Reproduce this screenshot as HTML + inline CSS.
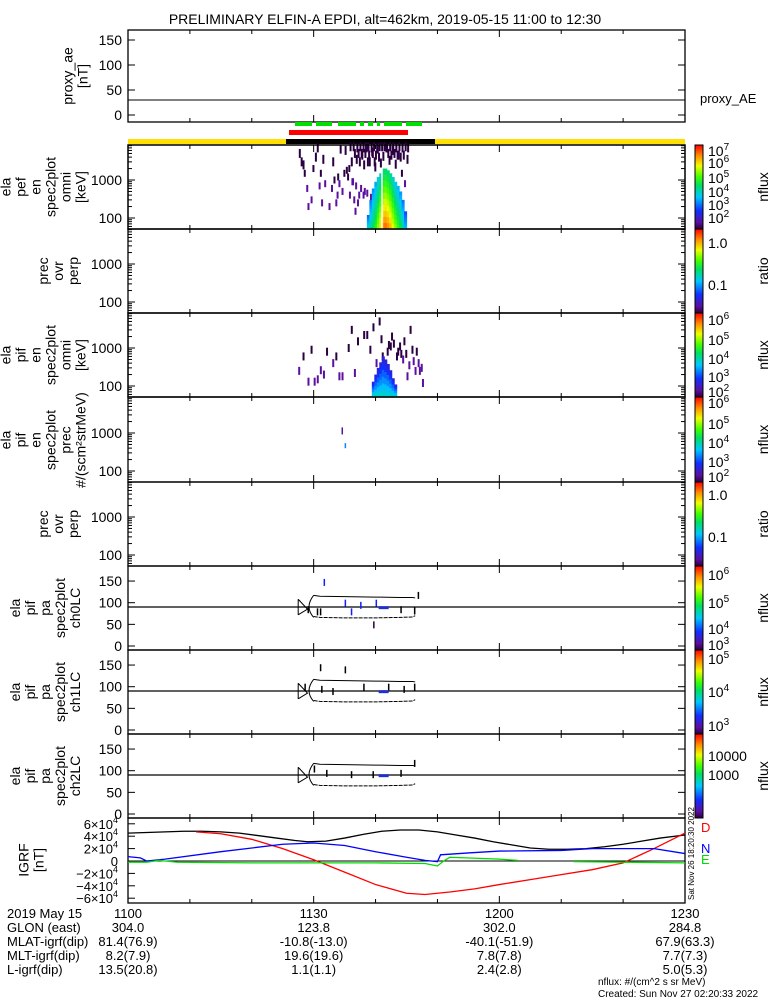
<!DOCTYPE html>
<html><head><meta charset="utf-8">
<style>
html,body{margin:0;padding:0;background:#fff;width:775px;height:1000px;overflow:hidden}
svg{display:block;font-family:"Liberation Sans",sans-serif}
text{fill:#000}
</style></head>
<body>
<svg id="fig" width="775" height="1000" viewBox="0 0 775 1000" xmlns="http://www.w3.org/2000/svg">
<defs>
<linearGradient id="rb" x1="0" y1="1" x2="0" y2="0">
<stop offset="0" stop-color="#2a0040"/><stop offset="0.08" stop-color="#5a10a0"/><stop offset="0.22" stop-color="#1030ff"/>
<stop offset="0.38" stop-color="#00c8ff"/><stop offset="0.52" stop-color="#00e060"/><stop offset="0.62" stop-color="#40ff00"/>
<stop offset="0.75" stop-color="#f0ff00"/><stop offset="0.87" stop-color="#ff9000"/><stop offset="1" stop-color="#ff0000"/>
</linearGradient>
</defs>
<text x="385" y="24" text-anchor="middle" font-size="14">PRELIMINARY ELFIN-A EPDI, alt=462km, 2019-05-15 11:00 to 12:30</text>
</svg>
<script>
// ---------- data ----------
const aeTimes=[0,90];
const aeValues=[30,30];
const coneTimes=[38.6,39.0,39.4,39.8,40.2,40.6,41.0,41.4,41.8,42.2,42.6,43.0,43.4,43.8,44.2,44.6];
const coneTopE=[120,300,600,900,1200,1500,2000,2000,1800,1500,1200,900,700,500,300,150];
const coneLevel=[0.3,0.35,0.4,0.45,0.55,0.65,0.75,0.78,0.75,0.7,0.62,0.55,0.48,0.42,0.35,0.25];
const pefSpeckT=[27.6,28.2,28.8,29.5,30.2,31,31.7,32.4,33,33.8,34.5,35,35.6,36.2,36.8,37.2,37.6,38,38.4,38.9,39.3,39.8,40.2,40.7,41.1,41.6,42.1,42.6,43.1,43.6,44.1,44.6,29,31.4,33.5,35.2,36.6,37.9,30.5,34.2,
 35.8,36.3,36.9,37.4,37.9,38.3,38.7,39.2,39.6,40.1,40.5,40.9,41.3,41.7,42.2,42.7,43.2,43.7,44.2,44.7,45.1,36.5,37.1,37.7,38.2,38.8,39.4,39.9,40.4,41.9,42.4,42.9,43.4,43.9,44.4,45,36,37.3,38.6,39.7,
 34.8,35.4,36.1,36.7,37.5,38.1,38.5,39.1,32.8,33.7,31.2,30.8,28.4,27.9,29.8,33.2,34,35.7,36.4,37];
const pefSpeckE=[5000,2500,600,300,4000,1500,800,200,3000,1200,500,6000,2000,900,3500,400,5000,2500,7000,3000,5500,2200,6500,2800,4200,7000,3300,6000,2600,4500,1500,800,200,3500,250,1800,150,400,7000,6500,
 7500,7500,7000,7500,7000,7500,7500,7000,7500,7000,7500,7500,7500,7000,7500,7500,7000,7500,7000,7500,7000,5000,5000,4500,5000,4500,5000,4500,4000,5000,4500,5000,4500,4000,4500,3500,3000,3000,3000,3000,
 1500,1200,900,700,600,500,450,350,600,400,250,700,1500,3000,2000,1000,800,400,300,250];
const pifSpeckT=[27.5,28.2,29,30.5,32,33.5,34.5,36,37,38,39,40,41.5,42.5,43.5,44.5,45.5,46.5,47,35.5,31.5,40.5,42,44,46,47.5,29.5,33,38.5,45,
 41,41.8,42.8,43.8,44.8,45.8,46.8,39.5,40.8,42.3,43.3,44.3,45.3,46.3,47.3,36.5,34,31,30];
const pifSpeckE=[250,600,130,150,800,600,180,3000,1500,2200,900,400,300,2000,800,1500,3000,800,250,1000,200,5000,1200,700,450,120,900,400,2200,180,
 600,800,1300,1100,700,900,400,3500,1700,1100,600,500,350,250,300,220,180,260,130];
const pifConeT=[39.4,39.8,40.2,40.6,41,41.4,41.8,42.2,42.6,43];
const pifConeTop=[130,200,300,420,600,500,380,260,160,110];
const paTop=[117,115,114,113,112,112,111];
const paTopT=[30,31,35,40,44,46,46.4];
const paBot=[68,66,65,65,66,67,70];
const totT=[0,3,6,9,12,15,18,21,24,27,29,32,35,38,41,44,47,50,53,56,59,62,65,68,71,74,77,80,83,86,90];
const totV=[45,46,47,48,48,47,45,41,37,33,31,32,37,43,48,50,50,47,42,37,31,26,21,19,19,20,23,27,32,37,42];
const dT=[11,15,20,25,30,35,40,45,48,52,56,60,65,70,75,80,85,90];
const dV=[47,44,35,20,2,-18,-38,-52,-54,-50,-45,-38,-30,-22,-14,-3,20,45];
const nT=[0,2,3,6,15,25,30,35,40,45,48,50,50.5,55,60,70,75,85,90];
const nV=[7,5,0,3,15,27,29,25,15,6,1,-1,10,13,16,17,20,20,12];
const eT=[0,3,5,8,20,30,40,48,50,51,52,60,63];
const eV=[-2,-2,1,-2,-3,-3,-3,-4,-8,0,6,3,1];
const e2T=[72,90];
const e2V=[-1,-3];
const xTicks=["1100","1130","1200","1230"];
const glon=["304.0","123.8","302.0","284.8"];
const mlat=["81.4(76.9)","-10.8(-13.0)","-40.1(-51.9)","67.9(63.3)"];
const mlt=["8.2(7.9)","19.6(19.6)","7.8(7.8)","7.7(7.3)"];
const lval=["13.5(20.8)","1.1(1.1)","2.4(2.8)","5.0(5.3)"];

// ---------- helpers ----------
const svg=document.getElementById('fig');
const NS='http://www.w3.org/2000/svg';
const X0=128,X1=685;
const xs=t=>X0+(X1-X0)*t/90;
function mk(tag,attrs,parent){const e=document.createElementNS(NS,tag);for(const k in attrs)e.setAttribute(k,attrs[k]);(parent||svg).appendChild(e);return e;}
function txt(s,x,y,sz,anchor,parent){const e=mk('text',{x:x,y:y,'font-size':sz,'text-anchor':anchor||'start'},parent);e.textContent=s;return e;}
function rainbow(v){const st=[[0,[42,0,64]],[0.08,[90,16,160]],[0.22,[16,48,255]],[0.38,[0,200,255]],[0.52,[0,224,96]],[0.62,[64,255,0]],[0.75,[240,255,0]],[0.87,[255,144,0]],[1,[255,0,0]]];
 v=Math.max(0,Math.min(1,v));for(let i=1;i<st.length;i++){if(v<=st[i][0]){const a=st[i-1],b=st[i],f=(v-a[0])/(b[0]-a[0]);return 'rgb('+a[1].map((c,j)=>Math.round(c+(b[1][j]-c)*f)).join(',')+')';}}return 'red';}
function xAxisTicks(top,bot,g){for(let m=0;m<=90;m+=10){const major=(m%30===0);const L=major?7:4;mk('line',{x1:xs(m),y1:top,x2:xs(m),y2:top+L,stroke:'#000'},g);mk('line',{x1:xs(m),y1:bot,x2:xs(m),y2:bot-L,stroke:'#000'},g);}}
function frame(top,bot,name){const g=mk('g',{});
 mk('rect',{x:X0,y:top,width:X1-X0,height:bot-top,fill:'none',stroke:'#000','stroke-width':1.3},g);xAxisTicks(top,bot,g);return g;}
function ylabel(lines,cx,cy,g){const t=mk('text',{transform:'translate('+cx+','+cy+') rotate(-90)','font-size':14,'text-anchor':'middle'},g);
 lines.forEach((l,i)=>{const s=mk('tspan',{x:0,dy:i===0?(-(lines.length-1)*7.5):15},t);s.textContent=l;});return t;}
function logAxis(top,bot,y100,y1000,g){const d=y100-y1000;
 for(let dec=1;dec<=4;dec++)for(let k=1;k<10;k++){const v=Math.pow(10,dec)*k;const y=y100-(Math.log10(v)-2)*d;if(y<top||y>bot)continue;const L=(k===1)?7:4;
  mk('line',{x1:X0,y1:y,x2:X0+L,y2:y,stroke:'#000'},g);mk('line',{x1:X1,y1:y,x2:X1-L,y2:y,stroke:'#000'},g);}
 txt('1000',X0-6,y1000+5,14,'end',g);txt('100',X0-6,y100+5,14,'end',g);
 return v=>y100-(Math.log10(v)-2)*d;}
function colorbar(top,bot,labels,title,name){const g=mk('g',{});
 mk('rect',{x:695,y:top,width:8,height:bot-top,fill:'url(#rb)',stroke:'#000','stroke-width':1},g);
 labels.forEach(l=>{const t=txt(l[0],708,l[1],14,'start',g);if(l[2]){const s=mk('tspan',{dy:-6,'font-size':10},t);s.textContent=l[2];}});
 const t=mk('text',{transform:'translate(768,'+((top+bot)/2)+') rotate(-90)','font-size':14,'text-anchor':'middle'},g);t.textContent=title;}
function speck(g,t,y,h,fill,name){const r=mk('rect',{x:xs(t),y:y-h/2,width:2,height:h,fill:fill},g);}

// ---------- panel 1: proxy AE ----------
(function(){const top=30,bot=122;const g=frame(top,bot,'proxy-ae-panel');const ys=v=>115-v*0.5;
 [0,50,100,150].forEach(v=>{txt(String(v),X0-6,ys(v)+5,14,'end',g);mk('line',{x1:X0,y1:ys(v),x2:X0+7,y2:ys(v),stroke:'#000'},g);mk('line',{x1:X1,y1:ys(v),x2:X1-7,y2:ys(v),stroke:'#000'},g);});
 const l=mk('polyline',{points:aeTimes.map((t,i)=>xs(t)+','+ys(aeValues[i])).join(' '),fill:'none',stroke:'#000'},g);
 
 ylabel(['proxy_ae','[nT]'],80,76,g);txt('proxy_AE',700,103,13,'start',g);})();

// status bars
(function(){const g=mk('g',{});
 [[295,312],[316,332],[338,356],[360,364],[368,373],[377,380],[384,402],[406,422]].forEach(s=>mk('rect',{x:s[0],y:122,width:s[1]-s[0],height:4,fill:'#00e000'},g));
 mk('rect',{x:289,y:130,width:119,height:5,fill:'#ff0000'},g);
 mk('rect',{x:X0,y:139,width:X1-X0,height:5,fill:'#ffe000'},g);
 mk('rect',{x:286,y:139,width:149,height:5,fill:'#000'},g);})();

// ---------- panel 2: ela pef ----------
(function(){const top=145,bot=229;const g=frame(top,bot,'pef-spectrogram-panel');const ys=logAxis(top,bot,218,180,g);
 ylabel(['ela','pef','en','spec2plot','omni','[keV]'],48,187,g);
 pefSpeckT.forEach((t,i)=>{const E=pefSpeckE[i];speck(g,t,ys(E),E>2000?9:7,E>900?'#2a0040':'#5a10a0','pef-speckle');});
 coneTimes.forEach((t,i)=>{const yTop=ys(coneTopE[i]);const n=10;for(let k=0;k<n;k++){const y0=yTop+(bot-yTop)*k/n,y1=yTop+(bot-yTop)*(k+1)/n;
  const r=mk('rect',{x:xs(t),y:y0,width:xs(0.4)-X0+0.6,height:y1-y0+0.5,fill:rainbow(0.12+coneLevel[i]*(0.45+0.55*(k+1)/n))},g);}});
 mk('line',{x1:382,y1:ys(2000),x2:382,y2:bot,stroke:'#fff','stroke-width':1.5},g);
 mk('rect',{x:X0,y:top,width:X1-X0,height:bot-top,fill:'none',stroke:'#000','stroke-width':1.3},g);})();

// ---------- panel 3: prec ovr perp ----------
(function(){const top=229,bot=313;const g=frame(top,bot,'pef-ratio-panel');logAxis(top,bot,302,264,g);ylabel(['prec','ovr','perp'],63,271,g);})();

// ---------- panel 4: ela pif ----------
(function(){const top=313,bot=397;const g=frame(top,bot,'pif-spectrogram-panel');const ys=logAxis(top,bot,386,348,g);
 ylabel(['ela','pif','en','spec2plot','omni','[keV]'],48,355,g);
 pifSpeckT.forEach((t,i)=>{const E=pifSpeckE[i];speck(g,t,ys(E),8,E>500?'#2a0040':'#5a10a0','pif-speckle');});
 pifConeT.forEach((t,i)=>{const yTop=ys(pifConeTop[i]);const n=6;for(let k=0;k<n;k++){const y0=yTop+(bot-yTop)*k/n,y1=yTop+(bot-yTop)*(k+1)/n;
  const r=mk('rect',{x:xs(t),y:y0,width:xs(0.4)-X0+0.6,height:y1-y0+0.5,fill:rainbow(0.12+0.3*(k+1)/n)},g);}});
 mk('rect',{x:X0,y:top,width:X1-X0,height:bot-top,fill:'none',stroke:'#000','stroke-width':1.3},g);})();

// ---------- panel 5: pif prec ----------
(function(){const top=397,bot=482;const g=frame(top,bot,'pif-prec-panel');const ys=logAxis(top,bot,471,433,g);
 ylabel(['ela','pif','en','spec2plot','prec','#/(scm\u00B2strMeV)'],48,440,g);
 mk('rect',{x:xs(34.5),y:ys(1100)-4,width:1.5,height:7,fill:'#5a10a0'},g);mk('rect',{x:xs(35),y:ys(450)-3,width:1.5,height:5,fill:'#1080ff'},g);})();

// ---------- panel 6: prec ovr perp ----------
(function(){const top=482,bot=566;const g=frame(top,bot,'pif-ratio-panel');logAxis(top,bot,555,517,g);ylabel(['prec','ovr','perp'],63,524,g);})();

// ---------- pitch angle panels ----------
function paPanel(top,name,chan,dashes){const bot=top+84;const g=frame(top,bot,name);const ys=v=>top+80-v*0.433;
 [0,50,100,150].forEach(v=>{txt(String(v),X0-6,ys(v)+5,14,'end',g);mk('line',{x1:X0,y1:ys(v),x2:X0+7,y2:ys(v),stroke:'#000'},g);mk('line',{x1:X1,y1:ys(v),x2:X1-7,y2:ys(v),stroke:'#000'},g);});
 mk('line',{x1:X0,y1:ys(90),x2:X1,y2:ys(90),stroke:'#000','stroke-width':1.2},g);
 ylabel(['ela','pif','pa','spec2plot',chan],50,top+42,g);
 const c1=mk('polyline',{points:paTopT.map((t,i)=>xs(t)+','+ys(paTop[i])).join(' '),fill:'none',stroke:'#000'},g);
 const c2=mk('polyline',{points:paTopT.map((t,i)=>xs(t)+','+ys(paBot[i])).join(' '),fill:'none',stroke:'#000','stroke-dasharray':'4 1'},g);
 mk('path',{d:'M'+xs(30)+','+ys(117)+' Q'+xs(28.5)+','+ys(90)+' '+xs(30)+','+ys(66)+' M'+xs(27.5)+','+ys(108)+' L'+xs(27.5)+','+ys(72)+' M'+xs(27.5)+','+ys(108)+' L'+xs(29)+','+ys(85)+' L'+xs(27.5)+','+ys(72),fill:'none',stroke:'#000'},g);
 dashes.forEach(d=>mk('rect',{x:xs(d[0]),y:ys(d[1])-3,width:1.5,height:7,fill:d[2]},g));
 mk('rect',{x:xs(40.5),y:ys(92),width:10,height:3,fill:'#2030d0'},g);}
paPanel(566,'pa-ch0-panel','ch0LC',[[29,85,'#000'],[30.5,80,'#000'],[31,80,'#000'],[31.6,148,'#1020ff'],[35,100,'#1020ff'],[36,80,'#1020ff'],[37.5,95,'#1020ff'],[40,100,'#1020ff'],[44,85,'#000'],[46.2,82,'#000'],[46.8,118,'#000'],[39.6,50,'#2a0040']]);
paPanel(650,'pa-ch1-panel','ch1LC',[[28.5,100,'#000'],[31,145,'#000'],[35,140,'#000'],[31.2,95,'#000'],[33,90,'#000'],[38,100,'#000'],[42,100,'#000'],[44.5,95,'#000'],[46.2,100,'#000']]);
paPanel(734,'pa-ch2-panel','ch2LC',[[30,105,'#000'],[32,95,'#000'],[36,92,'#000'],[39.5,92,'#000'],[44,95,'#000'],[46.2,118,'#000']]);

// colorbars
colorbar(145,229,[['10',156,'7'],['10',168,'6'],['10',183,'5'],['10',197,'4'],['10',210,'3'],['10',223,'2']],'nflux','colorbar-pef');
colorbar(229,313,[['1.0',248],['0.1',290]],'ratio','colorbar-pef-ratio');
colorbar(313,397,[['10',325,'6'],['10',345,'5'],['10',364,'4'],['10',382,'3'],['10',397,'2']],'nflux','colorbar-pif');
colorbar(397,482,[['10',408,'6'],['10',429,'5'],['10',448,'4'],['10',467,'3'],['10',482,'2']],'nflux','colorbar-pif-prec');
colorbar(482,566,[['1.0',500],['0.1',542]],'ratio','colorbar-pif-ratio');
colorbar(566,650,[['10',580,'6'],['10',608,'5'],['10',634,'4'],['10',650,'3']],'nflux','colorbar-ch0');
colorbar(650,734,[['10',664,'5'],['10',697,'4'],['10',731,'3']],'nflux','colorbar-ch1');
colorbar(734,818,[['10000',761],['1000',780]],'nflux','colorbar-ch2');

// ---------- IGRF panel ----------
(function(){const top=818,bot=903;const g=frame(top,bot,'igrf-panel');const ys=v=>861-v*0.62;
 [6,4,2,0,-2,-4,-6].forEach(v=>{const y=ys(v*10);mk('line',{x1:X0,y1:y,x2:X0+7,y2:y,stroke:'#000'},g);
  const t=txt(v===0?'0':(v<0?'\u2212':'')+Math.abs(v)+'\u00D710',X0-10,y+5,13,'end',g);if(v!==0){const s=mk('tspan',{dy:-6,'font-size':9},t);s.textContent='4';}});
 mk('line',{x1:X0,y1:ys(0),x2:X1,y2:ys(0),stroke:'#000'},g);
 ylabel(['IGRF','[nT]'],36,860,g);
 [[totT,totV,'#000','igrf-total-line'],[dT,dV,'#ff0000','igrf-d-line'],[nT,nV,'#0000ff','igrf-n-line'],[eT,eV,'#00dd00','igrf-e-line'],[e2T,e2V,'#00dd00','igrf-e-line-2']].forEach(s=>{
  const l=mk('polyline',{points:s[0].map((t,i)=>xs(t)+','+ys(s[1][i])).join(' '),fill:'none',stroke:s[2],'stroke-width':1.3},g);
  });
 const lab=[['D','#ff0000',832],['N','#0000ff',853],['E','#00dd00',864]];
 lab.forEach(l=>{const t=txt(l[0],701,l[2],13,'start',g);t.style.fill=l[1];});
 const st=mk('text',{transform:'translate(694,900) rotate(-90)','font-size':8},g);st.textContent='Sat Nov 26 18:20:30 2022';})();

// ---------- bottom annotations ----------
(function(){const g=mk('g',{});
 const rows=[['2019 May 15',xTicks,918],['GLON (east)',glon,932],['MLAT-igrf(dip)',mlat,946],['MLT-igrf(dip)',mlt,960],['L-igrf(dip)',lval,974]];
 rows.forEach(r=>{txt(r[0],7,r[2],13,'start',g);r[1].forEach((s,i)=>txt(s,xs(i*30),r[2],13,'middle',g));});
 txt('nflux: #/(cm^2 s sr MeV)',598,985,10,'start',g);
 txt('Created: Sun Nov 27 02:20:33 2022',598,997,10,'start',g);})();
</script>
</body></html>
